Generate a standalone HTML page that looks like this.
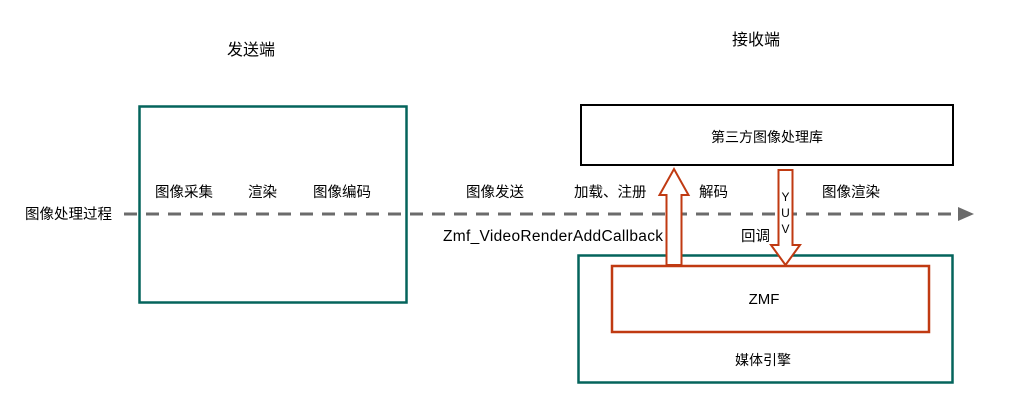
<!DOCTYPE html>
<html><head><meta charset="utf-8"><style>
body{margin:0;background:#fff;}
svg text{font-family:"Liberation Sans","Noto Sans CJK SC",sans-serif;fill:#000;}
</style></head><body>
<svg width="1017" height="409" viewBox="0 0 1017 409" xmlns="http://www.w3.org/2000/svg">
<text x="251" y="55" font-size="16" text-anchor="middle">发送端</text>
<text x="756" y="45" font-size="16" text-anchor="middle">接收端</text>
<rect x="139.5" y="106.5" width="267" height="196" fill="none" stroke="#04645c" stroke-width="2.5"/>
<rect x="581" y="105" width="372" height="60" fill="#fff" stroke="#000" stroke-width="2"/>
<text x="767" y="142" font-size="14" text-anchor="middle">第三方图像处理库</text>
<line x1="124" y1="214" x2="962" y2="214" stroke="#6b6b6b" stroke-width="3" stroke-dasharray="13,9"/>
<polygon points="958,207 974,214 958,221" fill="#6b6b6b"/>
<rect x="578.5" y="255.5" width="374" height="127" fill="#fff" stroke="#04645c" stroke-width="2.5"/>
<rect x="612" y="266" width="317" height="66" fill="#fff" stroke="#c03a12" stroke-width="2.5"/>
<text x="764" y="304" font-size="15" text-anchor="middle">ZMF</text>
<text x="763" y="365" font-size="14" text-anchor="middle">媒体引擎</text>
<polygon points="666.5,265 666.5,195 659.5,195 674,169 688.5,195 681.5,195 681.5,265" fill="#fff" stroke="#c03a12" stroke-width="2"/>
<polygon points="778.5,170 792.5,170 792.5,245 800,245 785.5,265 771,245 778.5,245" fill="#fff" stroke="#c03a12" stroke-width="2"/>
<text x="785.5" y="201" font-size="12" text-anchor="middle">Y</text>
<text x="785.5" y="217" font-size="12" text-anchor="middle">U</text>
<text x="785.5" y="233" font-size="12" text-anchor="middle">V</text>
<g font-size="14.5">
<text x="25" y="219">图像处理过程</text>
<text x="155" y="197">图像采集</text>
<text x="248" y="197">渲染</text>
<text x="313" y="197">图像编码</text>
<text x="466" y="197">图像发送</text>
<text x="574" y="197">加载、注册</text>
<text x="699" y="197">解码</text>
<text x="822" y="197">图像渲染</text>
<text x="741" y="241">回调</text>
</g>
<text x="443" y="241" font-size="15.5" textLength="220">Zmf_VideoRenderAddCallback</text>
</svg>
</body></html>
